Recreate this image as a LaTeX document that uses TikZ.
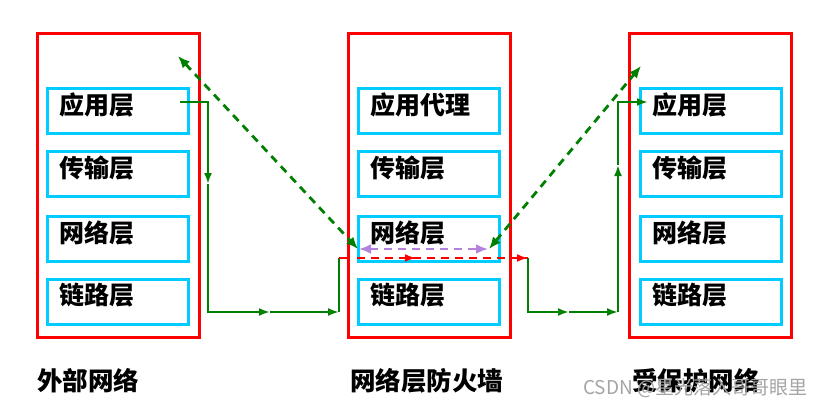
\documentclass[tikz,border=0pt]{standalone}
\usepackage{fontspec}
\setmainfont{Noto Sans CJK SC}
\usetikzlibrary{arrows.meta,calc}
\definecolor{boxred}{RGB}{255,0,0}
\definecolor{laycyan}{RGB}{0,204,255}
\definecolor{flowgreen}{RGB}{0,128,0}
\definecolor{lav}{RGB}{180,130,220}
\definecolor{wm}{RGB}{165,165,165}
\begin{document}
\begin{tikzpicture}[x=1pt,y=-1pt,
  sysbox/.style={draw=boxred,line width=3pt,minimum width=162pt,minimum height=304pt,inner sep=0pt,outer sep=0pt},
  layer/.style={draw=laycyan,line width=3pt,minimum width=141pt,minimum height=45pt,inner sep=0pt,outer sep=0pt},
  lbl/.style={font=\fontsize{25}{28}\selectfont\bfseries,anchor=west,inner sep=0pt},
  captext/.style={font=\fontsize{25.5}{28}\selectfont\bfseries,anchor=west,inner sep=0pt},
  tipg/.style={-{Latex[length=11pt,width=8pt]}},
  gsolid/.style={draw=flowgreen,line width=2.6pt},
  gdash/.style={draw=flowgreen,line width=2.8pt,dash pattern=on 8pt off 6pt,{Latex[length=12pt,width=10pt]}-{Latex[length=12pt,width=10pt]}},
  pdash/.style={draw=lav,line width=2.8pt,dash pattern=on 8pt off 6pt,{Latex[length=12pt,width=10pt]}-{Latex[length=12pt,width=10pt]}},
  rdash/.style={draw=boxred,line width=2.6pt,dash pattern=on 8pt off 6pt}
]
\useasboundingbox (0,0) rectangle (827,410);
\fill[white] (0,0) rectangle (827,410);

% system boxes
\node[sysbox] (S1) at (118,185) {};
\node[sysbox] (S2) at (429,185) {};
\node[sysbox] (S3) at (710,185) {};

% layers
\foreach \s/\cx in {1/117.5,2/429,3/710.5}{
  \node[layer] (A\s) at (\cx,110.5) {};
  \node[layer] (T\s) at (\cx,174) {};
  \node[layer] (N\s) at (\cx,238.5) {};
  \node[layer] (K\s) at (\cx,301.5) {};
}
\foreach \s in {1,2,3}{
  \node[lbl] at ($(T\s.west)+(12,-6)$) {传输层};
  \node[lbl] at ($(N\s.west)+(12,-6)$) {网络层};
  \node[lbl] at ($(K\s.west)+(12,-6)$) {链路层};
}
\node[lbl] at ($(A1.west)+(12,-6)$) {应用层};
\node[lbl] at ($(A2.west)+(12,-6)$) {应用代理};
\node[lbl] at ($(A3.west)+(12,-6)$) {应用层};

% captions
\node[captext] (C1) at (37,381) {外部网络};
\node[captext] (C2) at (350,381) {网络层防火墙};
\node[captext] (C3) at (632,381) {受保护网络};
\node[font=\fontsize{19}{22}\selectfont,text=wm,anchor=west,inner sep=0pt] (W) at (583,388) {CSDN @星光落入哥哥眼里};

% coordinates of the green route
\coordinate (g0) at (180,102);
\coordinate (g1) at (208,102);
\coordinate (g2) at (208,184);
\coordinate (g3) at (208,312);
\coordinate (g4) at (270,312);
\coordinate (g5) at (339,312);
\coordinate (g6) at (339,258);
\coordinate (r0) at (348,258);
\coordinate (r1) at (357,258);
\coordinate (r2) at (416,258);
\coordinate (r3) at (528,258);
\coordinate (h1) at (528,312);
\coordinate (h2) at (569,312);
\coordinate (h3) at (618,312);
\coordinate (h4) at (618,165);
\coordinate (h5) at (618,102);
\coordinate (h6) at (648,102);

\draw[gsolid,tipg] (g0) -- (g1) -- (g2);
\draw[gsolid,tipg] (g2) -- (g3) -- (g4);
\draw[gsolid,tipg] (g4) -- (g5);
\draw[gsolid] (g5) -- (g6);
\draw[draw=boxred,line width=2.6pt] (g6) -- (r0);
\draw[rdash] (r1) -- (r3);
\draw[rdash,tipg] (r1) -- (r2);
\draw[rdash,tipg] ($(r3)+(-12,0)$) -- (r3);
\draw[gsolid,tipg] (r3) -- (h1) -- (h2);
\draw[gsolid,tipg] (h2) -- (h3);
\draw[gsolid,tipg] (h3) -- (h4);
\draw[gsolid,tipg] (h4) -- (h5) -- (h6);

% dashed peer arrows
\coordinate (d1) at (178,56);
\coordinate (d2) at (358,249);
\coordinate (d3) at (489,249);
\coordinate (d4) at (641,66);
\draw[gdash] (d1) -- (d2);
\draw[gdash] (d3) -- (d4);
\draw[pdash] ($(d2)+(1,0)$) -- ($(d3)+(-1,0)$);
\end{tikzpicture}
\end{document}
